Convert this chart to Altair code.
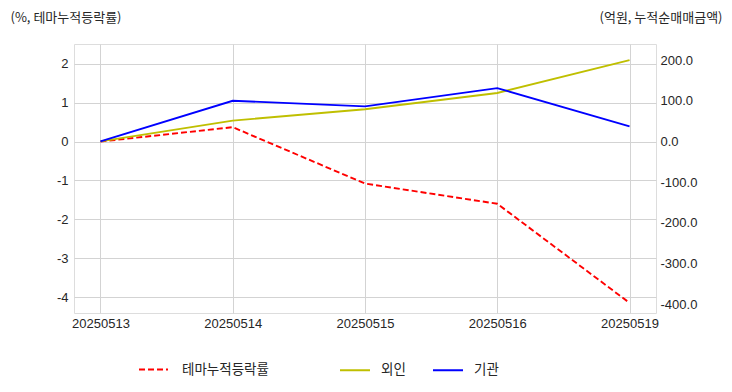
import altair as alt
import pandas as pd

dates = ["20250513", "20250514", "20250515", "20250516", "20250519"]
theme = [0.0, 0.37, -1.08, -1.60, -4.15]
foreign = [0.0, 51.0, 79.0, 119.0, 200.0]
inst = [0.0, 100.0, 86.0, 131.0, 37.0]

FONT = "Liberation Sans, Noto Sans CJK KR, sans-serif"
KFONT = "Noto Sans CJK KR, Liberation Sans, sans-serif"
GRID = "#d3d3d3"
TXT = "#262626"
MINUS_FIX = "replace(datum.label, '\u2212', '-')"

left_df = pd.DataFrame({"date": dates, "value": theme, "series": "테마누적등락률"})
right_df = pd.DataFrame({
    "date": dates * 2,
    "value": foreign + inst,
    "series": ["외인"] * len(dates) + ["기관"] * len(dates),
})

x_enc = alt.X(
    "date:N",
    sort=dates,
    scale=alt.Scale(type="point", padding=0.2),
    axis=alt.Axis(
        title=None, labelAngle=0, ticks=False, labelPadding=4, domain=False,
        grid=True, gridColor=GRID, gridWidth=1, labelFontSize=13,
        labelColor=TXT, labelFont=FONT,
    ),
)

left = alt.Chart(left_df).mark_line(strokeWidth=1.9, strokeDash=[6, 3]).encode(
    x=x_enc,
    y=alt.Y(
        "value:Q",
        scale=alt.Scale(domain=[-4.41, 2.51], nice=False, zero=False),
        axis=alt.Axis(
            orient="left", values=[-4, -3, -2, -1, 0, 1, 2], format="d",
            labelExpr=MINUS_FIX,
            ticks=False, domain=False, labelPadding=6, gridColor=GRID,
            labelFontSize=13, labelColor=TXT, labelFont=FONT,
            title="(%, 테마누적등락률)", titleAngle=0, titleAlign="left",
            titleBaseline="middle", titleX=-64, titleY=-27,
            titleFontSize=13, titleFontWeight="normal", titleFont=KFONT,
            titleColor=TXT,
        ),
    ),
    color=alt.Color(
        "series:N",
        scale=alt.Scale(domain=["테마누적등락률"], range=["#ff0000"]),
        legend=alt.Legend(
            title=None, orient="none", legendX=64, legendY=310,
            symbolType="stroke", symbolSize=840, symbolStrokeWidth=2,
            symbolDash=[6, 3], labelFontSize=13.5, labelFont=KFONT,
            labelColor=TXT, labelOffset=13,
        ),
    ),
)

right = alt.Chart(right_df).mark_line(strokeWidth=1.9).encode(
    x=x_enc,
    y=alt.Y(
        "value:Q",
        scale=alt.Scale(domain=[-422, 239.5], nice=False, zero=False),
        axis=alt.Axis(
            orient="right", values=[-400, -300, -200, -100, 0, 100, 200],
            format=".1f", labelExpr=MINUS_FIX,
            ticks=False, domain=False, labelPadding=4,
            gridColor=GRID, labelFontSize=13, labelColor=TXT,
            labelFont=FONT,
            title="(억원, 누적순매매금액)", titleAngle=0, titleAlign="right",
            titleBaseline="middle", titleX=66, titleY=-27,
            titleFontSize=13, titleFontWeight="normal", titleFont=KFONT,
            titleColor=TXT,
        ),
    ),
    color=alt.Color(
        "series:N",
        sort=["외인", "기관"],
        scale=alt.Scale(domain=["외인", "기관"], range=["#bfbf00", "#0000ff"]),
        legend=alt.Legend(
            title=None, orient="none", legendX=265, legendY=310,
            direction="horizontal", symbolType="stroke", symbolSize=900,
            symbolStrokeWidth=2, labelFontSize=13.5, labelFont=KFONT,
            labelColor=TXT, labelOffset=10, columnPadding=23,
        ),
    ),
)

chart = alt.layer(left, right).resolve_scale(
    y="independent", color="independent"
).properties(
    width=582,
    height=269,
    autosize=alt.AutoSizeParams(type="none"),
    padding={"left": 66, "top": 36, "right": 68, "bottom": 71},
).configure_view(
    stroke="#cccccc", strokeWidth=1.2
).configure(background="white")

chart.save("out.html", embed_options={"renderer": "svg", "actions": False})
